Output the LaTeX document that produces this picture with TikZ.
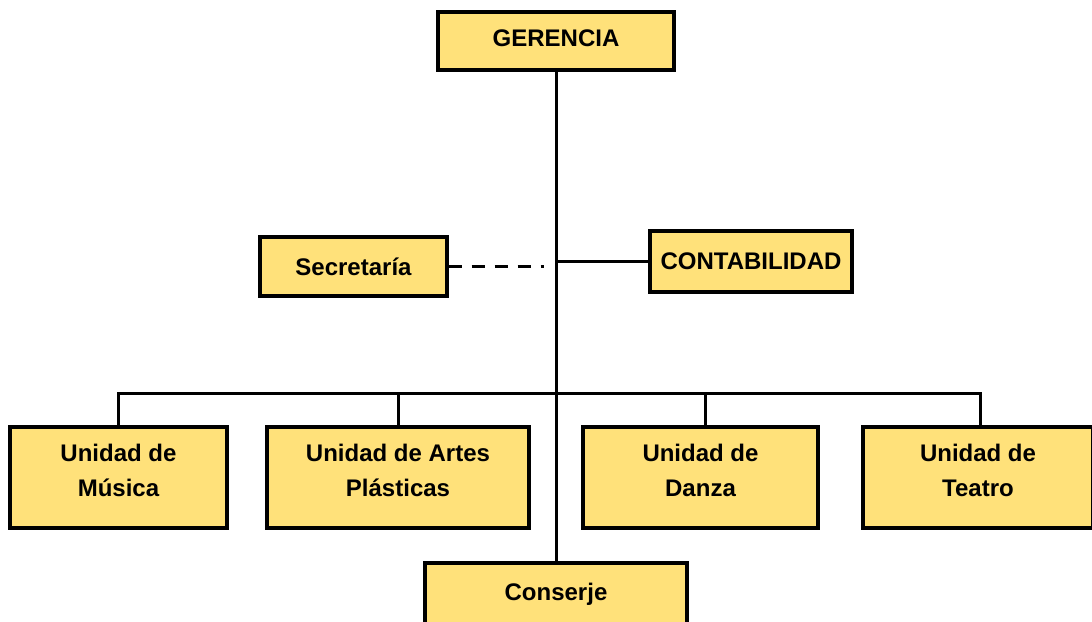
\documentclass[tikz,border=0pt]{standalone}
\usepackage{fontspec}
\setmainfont{Liberation Sans}
\usepackage{tikz}
\usetikzlibrary{calc}
\definecolor{boxfill}{RGB}{255,225,122}

\begin{document}
\begin{tikzpicture}[
  x=0.5pt,y=-0.5pt,
  unit/.style={draw,line width=1.6pt,fill=boxfill,inner sep=0pt,align=center,
    font=\bfseries\fontsize{12}{17.5}\selectfont,minimum width=#1},
  unit/.default=100pt,
  lowunit/.style={unit=#1,minimum height=50.5pt,text depth=7pt},
  link/.style={line width=1.5pt},
  dashlink/.style={line width=1.5pt,dash pattern=on 6.5pt off 5pt}
  ]
\clip (0,0) rectangle (1092,621);
\def\trunk{556}
\def\bus{393}
\node[unit=118pt,minimum height=29pt,text depth=3pt] (gerencia) at (\trunk,41) {GERENCIA}; % top
\node[unit=93.5pt,minimum height=29.5pt] (secretaria)  at (353.5,266.5)  {Secretaría};    % staff, left
\node[unit=101pt,minimum height=30.5pt] (contabilidad) at (751,261.5)    {CONTABILIDAD};  % staff, right
\node[lowunit=108.5pt] (musica)     at (118.5,477.5)  {Unidad de\\Música};
\node[lowunit=131pt]   (artes)      at (398,477.5)    {Unidad de Artes\\Plásticas};
\node[lowunit=117.5pt] (danza)      at (700.5,477.5)  {Unidad de\\Danza};
\node[lowunit=115pt]   (teatro)     at (978,477.5)    {Unidad de\\Teatro};
\node[unit=131pt,minimum height=31pt]   (conserje)     at (\trunk,594)   {Conserje};      % bottom
\coordinate (hub) at (\trunk,\bus);                                                       % bus meets trunk
\draw[link] (gerencia.south) -- (conserje.north);
\draw[dashlink,shorten >=6pt] (secretaria.east) -- (secretaria.east -| gerencia.south);
\draw[link] (contabilidad.west) -- (contabilidad.west -| gerencia.south);
\draw[link] (musica.north) |- (hub) -| ($(teatro.north)+(2,0)$);
\draw[link] (artes.north) -- (artes.north |- hub);
\draw[link] ($(danza.north)+(5,0)$) -- ($(danza.north |- hub)+(5,0)$);
\end{tikzpicture}
\end{document}
